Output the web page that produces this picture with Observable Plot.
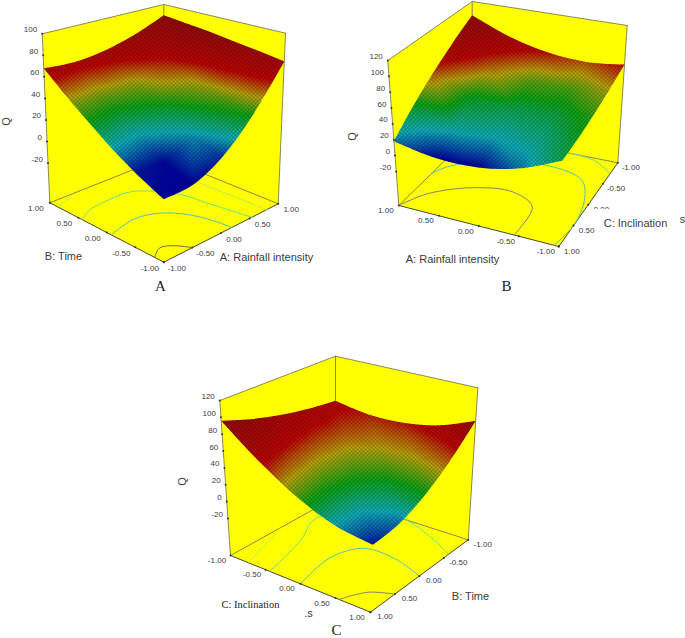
<!DOCTYPE html>
<html><head><meta charset="utf-8">
<style>html,body{margin:0;padding:0;background:#fff}svg{display:block}</style>
<script src="https://cdn.jsdelivr.net/npm/d3@7"></script>
<script src="https://cdn.jsdelivr.net/npm/@observablehq/plot@0.6"></script>
</head><body><script>
// factor levels shared by the three response surfaces
const levels = [-1, -0.5, 0, 0.5, 1];
const tickText = ["-1.00", "-0.50", "0.00", "0.50", "1.00"];

// Q: one row per level of the second factor, one column per level of the first
const qA = [ // rows B, columns A
  [-4, -3, 10, 36, 74],
  [8, 6.5, 17.6, 41.5, 78],
  [24, 21, 30, 50, 82],
  [44, 41, 47, 62, 85.6],
  [68, 66, 69, 76.6, 89]
];
const qB = [ // rows C, columns A
  [68, 63, 67, 79.6, 101],
  [56.8, 49.3, 51, 62, 82],
  [48, 37, 36, 44, 62],
  [41.6, 26.7, 21.6, 26.2, 40.6],
  [37.5, 17.8, 8, 8, 18]
];
const qC = [ // rows B, columns C
  [62, 55, 56, 64, 80],
  [66.8, 50.3, 41.8, 41, 48.4],
  [74, 49, 33, 25, 26],
  [83.8, 52, 29.8, 16.6, 12.9],
  [96, 59, 32, 15.4, 9]
];

// floor contours, [first factor, second factor]
const contoursA = [
  {color: "#66704a", pts: [[-1,-.84],[-.8,-.72],[-.65,-.78],[-.5,-1]]},
  {color: "#5cc0b0", pts: [[-1,-.08],[-.5,.02],[-.12,-.12],[.12,-.52],[.19,-1]]},
  {color: "#70e080", pts: [[-1,.44],[-.72,.56],[-.41,.59],[-.01,.57],[.38,.09],[.44,-.32],[.54,-1]]},
  {color: "#b8ec60", pts: [[-1,.86],[-.92,.88],[-.7,.94],[-.6,1]]},
  {color: "#b8ec60", pts: [[.8,-1],[.79,-.4],[.77,.13]]}
];
const contoursB = [
  {color: "#80846a", pts: [[1,1],[.83,.58],[.4,.2],[-.06,.1],[-.4,.32],[-.44,1]]},
  {color: "#5cc0b0", pts: [[1,.1],[.88,-.16],[.2,-.6],[-.7,-.5],[-.9,-.14],[-1,.46],[-.94,1]]},
  {color: "#70d890", pts: [[-.35,-1],[-.7,-.95],[-1,-.74]]}
];
const contoursC = [
  {color: "#80846a", pts: [[.55,1],[.72,.66],[1,.5]]},
  {color: "#5cc0b0", pts: [[0,1],[-.1,.3],[.07,-.14],[.52,-.16],[1,0]]},
  {color: "#70e080", pts: [[-.44,1],[-.62,.16],[-.83,-.4],[-.4,-.9],[.06,-1],[.6,-.8],[1,-.6]]},
  {color: "#b8ec60", pts: [[-.74,1],[-.87,.53],[-.95,.2]]}
];

const colorStops = [0, .25, .5, .75, 1, 1.5];
const colorRange = ["#0000ae", "#10bcc8", "#0cb016", "#c8b00c", "#cc0404", "#a00c0c"];
// Q at which each panel's surface reaches the colours above
const hueQA = [6, 20, 35, 50, 62, 85];
const hueQB = [8, 22, 45, 58, 68, 100];
const hueQC = [8, 16, 28, 42, 58, 90];

// layout: box corners in page pixels; floor and top as [a0b0, a1b0, a0b1, a1b1]
const panels = [
  {q: qA, qRange: [-57, 100], qTicks: [100,80,60,40,20,0,-20], hue: hueQA, contours: contoursA,
   floor: [[163.3,261.7],[277.7,203.3],[49.3,202.3],[163.3,157]],
   top: [[163.3,75],[285,32.7],[41.7,33.3],[163.3,4]],
   uAt: -1, vAt: -1, uOff: [13,6], vOff: [-14,6]},
  {q: qB, qRange: [-63, 120], qTicks: [120,100,80,60,40,20,0,-20], hue: hueQB, contours: contoursB,
   floor: [[617.3,162.3],[471.7,133.3],[558.3,246],[398.3,205]],
   top: [[626.7,25],[471.7,1],[565.3,89.3],[387.3,60]],
   uAt: 1, vAt: -1, uOff: [-13,5], vOff: [13,4.5]},
  {q: qC, qRange: [-64, 120], qTicks: [120,100,80,60,40,20,0,-20], hue: hueQC, contours: contoursC,
   floor: [[335,496.7],[467.7,539.3],[230,555],[370,611.7]],
   top: [[335,355.7],[477.3,387.3],[219.3,400],[376,441.7]],
   uAt: 1, vAt: 1, uOff: [-13.5,5], vOff: [14.5,4.5]}
];

const labels = [
  {text: "B: Time", x: 63, y: 256}, {text: "A: Rainfall intensity", x: 266, y: 257},
  {text: "A: Rainfall intensity", x: 452, y: 259}, {text: "C: Inclination", x: 635, y: 223},
  {text: "B: Time", x: 470, y: 596}
];
const serifLabels = [
  {text: "A", x: 160, y: 286, size: 15}, {text: "B", x: 506, y: 286, size: 15}, {text: "C", x: 336, y: 630, size: 15},
  {text: "C: Inclination", x: 250, y: 604, size: 10.5}
];
const qLabels = [{x: 6, y: 121}, {x: 352, y: 136}, {x: 182, y: 481}];
const strays = [{text: "s", x: 682, y: 219}, {text: ".s", x: 308, y: 613}];

function project(p, u, v, Q) {
  const a = (u + 1) / 2, b = (v + 1) / 2, w = (Q - p.qRange[0]) / (p.qRange[1] - p.qRange[0]);
  const mix = (c, k) => (1-a)*(1-b)*c[0][k] + a*(1-b)*c[1][k] + (1-a)*b*c[2][k] + a*b*c[3][k];
  return {x: mix(p.floor,0)*(1-w) + mix(p.top,0)*w, y: mix(p.floor,1)*(1-w) + mix(p.top,1)*w};
}

const ink = "#3c3c3c", edge = "#6c6c45";
const sans = "Liberation Sans";
const marks = [];
const clips = [];

for (const p of panels) {
  const [lo, hi] = p.qRange;
  const corners = [[-1,-1],[1,-1],[-1,1],[1,1]];
  const py = c => project(p,c[0],c[1],lo);
  const back = corners.slice().sort((m,n) => py(m).y - py(n).y)[0];
  const front = [-back[0], -back[1]];
  const others = corners.filter(c => c !== back && !(c[0]===front[0] && c[1]===front[1]));
  others.sort((m,n) => py(m).x - py(n).x);
  const [left, right] = others;
  const P = (c, q) => project(p, c[0], c[1], q);
  const wall = {x:"x",y:"y",fill:"#ffff00",stroke:"none"};
  marks.push(Plot.line([P(left,lo),P(front,lo),P(right,lo),P(back,lo)], wall));
  marks.push(Plot.line([P(left,lo),P(left,hi),P(back,hi),P(back,lo)], wall));
  marks.push(Plot.line([P(right,lo),P(right,hi),P(back,hi),P(back,lo)], wall));
  for (const seg of [[P(left,hi),P(back,hi),P(right,hi)],[P(left,lo),P(left,hi)],[P(right,lo),P(right,hi)],[P(back,lo),P(back,hi)],[P(left,lo),P(back,lo),P(right,lo)]])
    marks.push(Plot.line(seg, {x:"x",y:"y",stroke:edge,strokeWidth:.8}));
  marks.push(Plot.line([P(left,lo),P(front,lo),P(right,lo)], {x:"x",y:"y",stroke:"#4a4a30",strokeWidth:1}));

  // floor contours
  for (const c of p.contours)
    marks.push(Plot.line(c.pts.map(d => project(p,d[0],d[1],lo)), {x:"x",y:"y",stroke:c.color,strokeWidth:1,curve:"catmull-rom"}));

  // surface
  const toStop = d3.scaleLinear(p.hue, colorStops).clamp(true);
  const knots = [];
  p.q.forEach((row,j) => row.forEach((Q,i) => knots.push({...project(p,levels[i],levels[j],Q), t:toStop(Q)})));
  marks.push(Plot.raster(knots, {x:"x",y:"y",fill:"t",interpolate:"barycentric",pixelSize:1}));
  const at = (i,j) => project(p,levels[i],levels[j],p.q[j][i]);
  const idx = [0,1,2,3,4];
  const edges = [idx.map(i=>at(i,0)), idx.map(j=>at(4,j)), idx.map(i=>at(4-i,4)), idx.map(j=>at(0,4-j))];
  const gen = d3.line().x(d=>d.x).y(d=>d.y).curve(d3.curveCatmullRom);
  clips.push(edges.map((e,k) => { const s = gen(e); return k ? "L"+s.slice(1) : s; }).join("") + "Z");

  // ticks and tick labels on the floor
  const uTicks = levels.map((l,i) => ({...project(p,l,p.uAt,lo), text:tickText[i]}));
  const vTicks = levels.map((l,i) => ({...project(p,p.vAt,l,lo), text:tickText[i]}));
  for (const [ticks, off] of [[uTicks,p.uOff],[vTicks,p.vOff]]) {
    marks.push(Plot.dot(ticks,{x:"x",y:"y",r:1,fill:"#333",stroke:"none"}));
    marks.push(Plot.text(ticks,{x:"x",y:"y",text:"text",dx:off[0],dy:off[1],fontSize:8,fontFamily:sans,fill:ink}));
  }
  // Q axis on the left-hand vertical edge
  const qT = p.qTicks.map(q => ({...P(left,q), text:String(q)}));
  marks.push(Plot.dot(qT,{x:"x",y:"y",r:1,fill:"#333",stroke:"none"}));
  marks.push(Plot.text(qT,{x:"x",y:"y",text:"text",dx:-5,dy:-4,textAnchor:"end",fontSize:8,fontFamily:sans,fill:ink}));
}

// the clipped label in panel B
marks.push(Plot.rect([{}],{x1:()=>588,x2:()=>613,y1:()=>209,y2:()=>216,fill:"#fff"}));
marks.push(Plot.text(labels,{x:"x",y:"y",text:"text",fontSize:11,fontFamily:sans,fill:ink}));
marks.push(Plot.text(serifLabels,{x:"x",y:"y",text:"text",fontSize:"size",fontFamily:"Liberation Serif",fill:"#222"}));
marks.push(Plot.text(qLabels,{x:"x",y:"y",text:()=>"Q",rotate:-90,fontSize:11,fontFamily:sans,fill:ink}));
marks.push(Plot.text(strays,{x:"x",y:"y",text:"text",fontSize:11,fontFamily:sans,fill:ink}));

const chart = Plot.plot({
  width: 685, height: 638, margin: 0,
  x: {domain: [0,685], range: [0,685], axis: null},
  y: {domain: [0,638], range: [0,638], axis: null},
  color: {type: "linear", domain: colorStops, range: colorRange, clamp: true},
  style: {background: "#fff", overflow: "hidden"},
  marks
});
document.body.append(chart);

// keep each surface inside its own curved outline and give it the fine mesh texture
const ns = "http://www.w3.org/2000/svg";
const el = (n, attrs) => { const e = document.createElementNS(ns,n); for (const k in attrs) e.setAttribute(k,attrs[k]); return e; };
const defs = el("defs",{});
chart.prepend(defs);
const mesh = el("pattern",{id:"mesh",patternUnits:"userSpaceOnUse",width:4,height:4});
mesh.append(el("rect",{x:0,y:0,width:2,height:2,fill:"#000",opacity:.34}), el("rect",{x:2,y:2,width:2,height:2,fill:"#000",opacity:.34}));
defs.append(mesh);
chart.querySelectorAll("image").forEach((im,i) => {
  const c = el("clipPath",{id:"surf"+i});
  c.append(el("path",{d:clips[i]}));
  defs.append(c);
  const g = im.parentNode;
  g.setAttribute("clip-path",`url(#surf${i})`);
  g.append(el("rect",{x:0,y:0,width:685,height:638,fill:"url(#mesh)"}));
});
</script></body></html>
